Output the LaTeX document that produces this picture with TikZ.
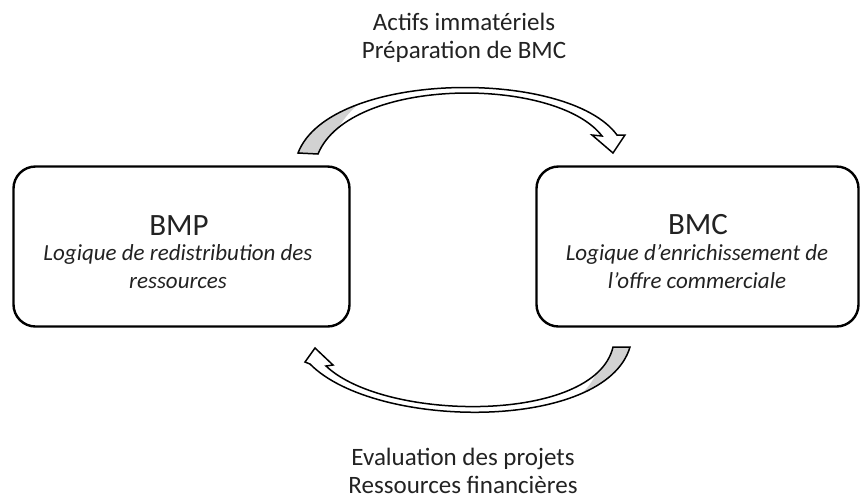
\documentclass[tikz,border=0pt]{standalone}
\usepackage{fontspec}
\setmainfont{Carlito}
\definecolor{txt}{HTML}{222222}
\definecolor{tailgray}{HTML}{D2D2D2}
\begin{document}
\begin{tikzpicture}[x=1pt,y=-1pt,
  box/.style={draw=black,line width=2.4pt,rounded corners=22pt,minimum height=160pt,inner sep=0pt},
  ttl/.style={anchor=base,text=txt,inner sep=0pt,font=\fontsize{31}{31}\selectfont},
  sub/.style={anchor=base,align=center,text=txt,inner sep=0pt,font=\fontsize{23}{28}\selectfont\itshape},
  lbl/.style={anchor=base,align=center,text=txt,inner sep=0pt,font=\fontsize{25}{28}\selectfont},
  band/.style={draw=black,line width=1.5pt,line join=miter}]
\useasboundingbox (0,0) rectangle (861,499);
% boxes
\node[box,minimum width=336pt] (bmp) at (181.5,246.5) {};
\node[box,minimum width=322pt] (bmc) at (697.5,246.5) {};
\node[ttl] (bmpt) at (179,235) {BMP};
\node[sub] (bmps) at (178,288) {Logique de redistribution des\\ressources};
\node[ttl] (bmct) at (698,234) {BMC};
\node[sub] (bmcs) at (697,288) {Logique d’enrichissement de\\l’offre commerciale};
% labels
\node[lbl] (toplbl) at (464,58) {Actifs immatériels\\Préparation de BMC};
\node[lbl] (botlbl) at (463,493) {Evaluation des projets\\Ressources financières};
% top curved arrow
\fill[white] (298,153) .. controls (330,70) and (568,68) .. (617,135) -- (625,135) -- (613,153) -- (592,135) -- (602,136) .. controls (556,76) and (350,76) .. (318,154) -- cycle;
\begin{scope}
\clip (298,153) .. controls (330,70) and (568,68) .. (617,135) -- (625,135) -- (613,153) -- (592,135) -- (602,136) .. controls (556,76) and (350,76) .. (318,154) -- cycle;
\fill[tailgray] (280,170) -- (322,165) .. controls (335,120) and (360,95) .. (400,80) -- (280,60) -- cycle;
\end{scope}
\draw[band] (298,153) .. controls (330,70) and (568,68) .. (617,135) -- (625,135) -- (613,153) -- (592,135) -- (602,136) .. controls (556,76) and (350,76) .. (318,154) -- cycle;
% bottom curved arrow
\fill[white] (630,347) .. controls (605,432) and (375,430) .. (310,364) -- (305,362) -- (315,348) -- (333,365) -- (326,366) .. controls (385,422) and (595,424) .. (613,347) -- cycle;
\begin{scope}
\clip (630,347) .. controls (605,432) and (375,430) .. (310,364) -- (305,362) -- (315,348) -- (333,365) -- (326,366) .. controls (385,422) and (595,424) .. (613,347) -- cycle;
\fill[tailgray] (650,330) -- (608,335) .. controls (600,380) and (585,400) .. (540,420) -- (650,440) -- cycle;
\end{scope}
\draw[band] (630,347) .. controls (605,432) and (375,430) .. (310,364) -- (305,362) -- (315,348) -- (333,365) -- (326,366) .. controls (385,422) and (595,424) .. (613,347) -- cycle;
\end{tikzpicture}
\end{document}
